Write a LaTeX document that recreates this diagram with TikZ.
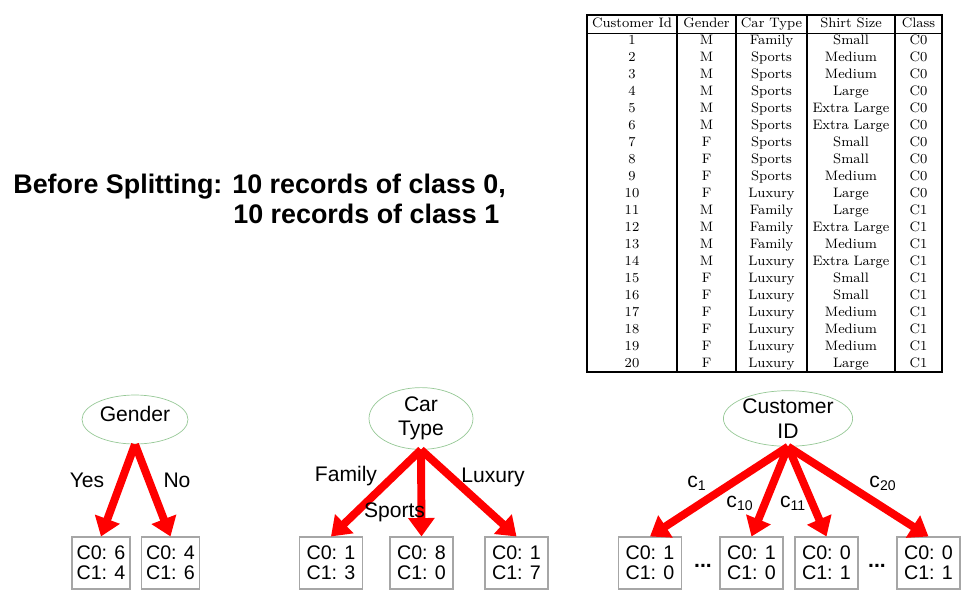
\documentclass[tikz,border=0pt]{standalone}
\usepackage{fontspec}
\newfontfamily\arialfont{Liberation Sans}
\usepackage{xcolor}
\usepackage{tikz}
\usetikzlibrary{shapes.geometric, arrows.meta, positioning}
\definecolor{ovalgreen}{RGB}{150,200,150}
\tikzstyle{split} = [draw=red, line width=4.5pt, -{Triangle[length=10.5pt,width=14.5pt]}]
\tikzstyle{attr} = [ellipse, draw=ovalgreen, line width=0.4pt, inner sep=0pt, align=center, font=\arialfont\fontsize{12}{14}\selectfont]
\tikzstyle{leaf} = [draw=gray!70, line width=0.6pt, minimum height=1.04cm, inner sep=0pt, align=center, font=\arialfont\fontsize{11.2}{11.5}\selectfont]
\tikzstyle{lbl} = [inner sep=0pt, font=\arialfont\fontsize{12}{14}\selectfont]
\tikzstyle{cell} = [inner sep=0pt, text height=5.6pt, text depth=1.6pt, font=\fontsize{7.8}{9}\selectfont]

\begin{document}
\begin{tikzpicture}[x=0.02cm, y=-0.02cm]
\useasboundingbox (0,0) rectangle (966,608);

% Heading text
\node[anchor=base west, inner sep=0pt, font=\arialfont\bfseries\fontsize{15.3}{18}\selectfont] (before) at (13,193) {Before Splitting: 10 records of class 0,};
\node[anchor=base west, inner sep=0pt, font=\arialfont\bfseries\fontsize{15.3}{18}\selectfont] (before2) at (233,223) {10 records of class 1};

% Data table
\draw[line width=0.8pt] (587,15) rectangle (942,372);
\draw[line width=0.5pt] (587,33) -- (942,33);
\foreach \xs in {677,736,807,895}
  \draw[line width=0.6pt] (\xs,15) -- (\xs,372);
\node[cell] (h1) at (632,24) {Customer Id};
\node[cell] (h2) at (706.5,24) {Gender};
\node[cell] (h3) at (771.5,24) {Car Type};
\node[cell] (h4) at (851,24) {Shirt Size};
\node[cell] (h5) at (918.5,24) {Class};
\foreach \id/\g/\car/\shirt/\cls in {1/M/Family/Small/C0, 2/M/Sports/Medium/C0, 3/M/Sports/Medium/C0,
  4/M/Sports/Large/C0, 5/M/Sports/Extra Large/C0, 6/M/Sports/Extra Large/C0, 7/F/Sports/Small/C0,
  8/F/Sports/Small/C0, 9/F/Sports/Medium/C0, 10/F/Luxury/Large/C0, 11/M/Family/Large/C1,
  12/M/Family/Extra Large/C1, 13/M/Family/Medium/C1, 14/M/Luxury/Extra Large/C1, 15/F/Luxury/Small/C1,
  16/F/Luxury/Small/C1, 17/F/Luxury/Medium/C1, 18/F/Luxury/Medium/C1, 19/F/Luxury/Medium/C1,
  20/F/Luxury/Large/C1}
{
  \node[cell] (id\id) at (632,{33+(\id-0.5)*16.95}) {\id};
  \node[cell] (g\id) at (706.5,{33+(\id-0.5)*16.95}) {\g};
  \node[cell] (car\id) at (771.5,{33+(\id-0.5)*16.95}) {\car};
  \node[cell] (shirt\id) at (851,{33+(\id-0.5)*16.95}) {\shirt};
  \node[cell] (cls\id) at (918.5,{33+(\id-0.5)*16.95}) {\cls};
}

% Split on Gender
\node[attr, minimum width=2.12cm, minimum height=0.98cm, text depth=6pt] (gender) at (135,419.5) {Gender};
\node[leaf, minimum width=1.16cm] (gyes) at (101,563) {C0: 6\\C1: 4};
\node[leaf, minimum width=1.16cm] (gno) at (170.5,563) {C0: 4\\C1: 6};
\draw[split] (gender.south) -- (gyes.north);
\draw[split] (gender.south) -- (gno.north);
\node[lbl] (lyes) at (87,480) {Yes};
\node[lbl] (lno) at (177,480) {No};

% Split on Car Type
\node[attr, minimum width=2.08cm, minimum height=1.02cm] (cartype) at (421,418.5) {Car\\Type};
\node[leaf, minimum width=1.26cm] (tfam) at (331,563) {C0: 1\\C1: 3};
\node[leaf, minimum width=1.26cm] (tspo) at (421.5,563) {C0: 8\\C1: 0};
\node[leaf, minimum width=1.26cm] (tlux) at (516.5,563) {C0: 1\\C1: 7};
\draw[split] (cartype.south) -- (tfam.north);
\draw[split] (cartype.south) -- (tspo.north);
\draw[split] (cartype.south) -- (tlux.north);
\node[lbl] (lfam) at (346,476) {Family};
\node[lbl] (lspo) at (394.5,512) {Sports};
\node[lbl] (llux) at (493,477) {Luxury};

% Split on Customer ID
\node[attr, minimum width=2.48cm, minimum height=1.02cm] (custid) at (788,418.5) {Customer\\ID};
\node[leaf, minimum width=1.26cm] (cone) at (650,563) {C0: 1\\C1: 0};
\node[leaf, minimum width=1.26cm] (cten) at (751.5,563) {C0: 1\\C1: 0};
\node[leaf, minimum width=1.26cm] (celeven) at (826.5,563) {C0: 0\\C1: 1};
\node[leaf, minimum width=1.26cm] (ctwenty) at (928.5,563) {C0: 0\\C1: 1};
\draw[split] (custid.south) -- (cone.north);
\draw[split] (custid.south) -- (cten.north);
\draw[split] (custid.south) -- (celeven.north);
\draw[split] (custid.south) -- (ctwenty.north);
\node[lbl] (lone) at (697,483) {c\textsubscript{1}};
\node[lbl] (lten) at (740,503) {c\textsubscript{10}};
\node[lbl] (leleven) at (793,503) {c\textsubscript{11}};
\node[lbl] (ltwenty) at (883,483) {c\textsubscript{20}};
\node[lbl] (dotsa) at (703,566) {\textbf{...}};
\node[lbl] (dotsb) at (877,566) {\textbf{...}};
\end{tikzpicture}
\end{document}
